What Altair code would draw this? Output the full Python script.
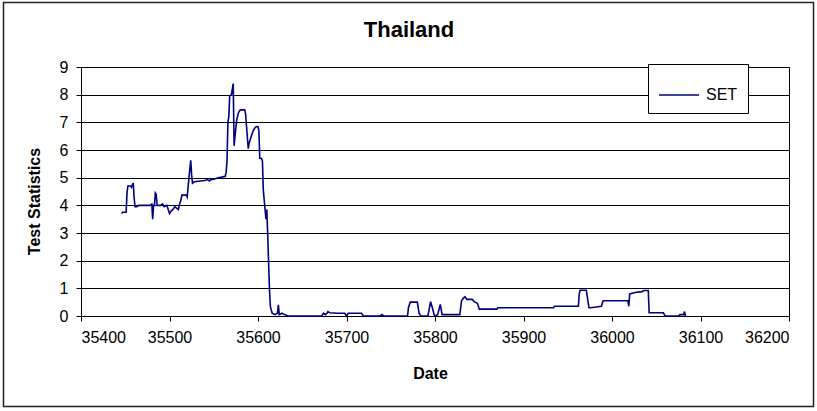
import altair as alt
import pandas as pd

# SET test statistics by (Excel serial) date
dates = [
    35446, 35447, 35451, 35452, 35453, 35456, 35457, 35459, 35460, 35461,
    35463, 35465, 35478, 35480, 35481, 35482, 35483, 35484, 35485, 35486,
    35490, 35492, 35494, 35497, 35499, 35500, 35502, 35504, 35506, 35508,
    35510, 35511, 35513, 35514, 35519, 35520, 35522, 35524, 35525, 35526,
    35528, 35535, 35540, 35543, 35545, 35547, 35551, 35555, 35559, 35563,
    35564, 35565, 35566, 35567, 35568, 35570, 35572, 35573, 35574, 35576,
    35578, 35580, 35585, 35586, 35588, 35589, 35590, 35592, 35594, 35596,
    35598, 35600, 35601, 35602, 35604, 35605, 35606, 35607, 35608, 35609,
    35610, 35611, 35612, 35613, 35614, 35616, 35619, 35622, 35623, 35624,
    35627, 35630, 35634, 35672, 35674, 35676, 35678, 35679, 35681, 35690,
    35698, 35700, 35702, 35717, 35719, 35738, 35740, 35742, 35769, 35770,
    35772, 35780, 35782, 35784, 35792, 35795, 35797, 35799, 35800, 35803,
    35806, 35808, 35810, 35828, 35830, 35832, 35834, 35836, 35842, 35845,
    35848, 35850, 35870, 35871, 35934, 35935, 35962, 35963, 35964, 35971,
    35973, 35974, 35976, 35988, 35990, 36018, 36019, 36020, 36026, 36034,
    36036, 36041, 36042, 36058, 36060, 36075, 36077, 36081, 36082, 36083,
]
values = [
    3.70, 3.75, 3.75, 4.45, 4.70, 4.70, 4.65, 4.81, 4.30, 3.95,
    3.95, 4.00, 4.00, 4.05, 3.50, 4.00, 4.00, 4.45, 4.40, 4.00,
    4.00, 4.05, 3.95, 4.00, 3.80, 3.70, 3.80, 3.85, 3.95, 3.90,
    3.85, 4.00, 4.20, 4.37, 4.37, 4.30, 5.00, 5.63, 5.10, 4.80,
    4.85, 4.88, 4.90, 4.93, 4.88, 4.93, 4.95, 5.00, 5.02, 5.05,
    5.20, 5.60, 7.00, 7.20, 7.95, 8.00, 8.40, 6.15, 6.50, 7.10,
    7.35, 7.45, 7.45, 7.30, 6.45, 6.05, 6.25, 6.45, 6.65, 6.78,
    6.85, 6.84, 6.70, 5.70, 5.69, 5.60, 4.55, 4.20, 3.85, 3.50,
    3.85, 2.90, 1.90, 0.94, 0.34, 0.10, 0.05, 0.10, 0.40, 0.05,
    0.10, 0.05, 0.00, 0.00, 0.10, 0.05, 0.10, 0.16, 0.12, 0.10,
    0.10, 0.00, 0.10, 0.10, 0.00, 0.00, 0.05, 0.00, 0.00, 0.30,
    0.50, 0.50, 0.10, 0.00, 0.00, 0.52, 0.30, 0.05, 0.00, 0.05,
    0.42, 0.05, 0.05, 0.05, 0.55, 0.64, 0.70, 0.60, 0.60, 0.50,
    0.46, 0.25, 0.25, 0.30, 0.30, 0.35, 0.35, 0.80, 0.93, 0.93,
    0.50, 0.30, 0.30, 0.35, 0.55, 0.55, 0.35, 0.80, 0.85, 0.88,
    0.92, 0.92, 0.12, 0.12, 0.00, 0.00, 0.05, 0.05, 0.16, 0.00,
]
series_name = "SET"
x_ticks = [35400, 35500, 35600, 35700, 35800, 35900, 36000, 36100, 36200]
y_ticks = [0, 1, 2, 3, 4, 5, 6, 7, 8, 9]

df = pd.DataFrame({"Date": dates, "Value": values, "series": series_name})

FONT = "Liberation Sans"
W, H = 708, 249

line = alt.Chart(df).mark_line(strokeWidth=1.6, interpolate="linear").encode(
    x=alt.X(
        "Date:Q",
        scale=alt.Scale(domain=[x_ticks[0], x_ticks[-1]], nice=False, zero=False),
        axis=alt.Axis(
            values=x_ticks, format="d", grid=False, title="Date",
            titleX=349, titleY=62, titleBaseline="alphabetic",
            titleFontSize=16, titleFontWeight="bold",
            labelFontSize=16, labelPadding=8, tickSize=5,
        ),
    ),
    y=alt.Y(
        "Value:Q",
        scale=alt.Scale(domain=[y_ticks[0], y_ticks[-1]], nice=False),
        axis=alt.Axis(
            values=y_ticks, grid=True, title="Test Statistics",
            titleX=-42, titleY=134, titleBaseline="alphabetic",
            titleFontSize=16, titleFontWeight="bold",
            labelFontSize=16, labelPadding=8, tickSize=5,
        ),
    ),
    color=alt.Color(
        "series:N",
        scale=alt.Scale(domain=[series_name], range=["#000080"]),
        legend=alt.Legend(
            title=None, orient="none", legendX=567, legendY=-3,
            strokeColor="#000000", fillColor="#ffffff", padding=10,
            symbolType="stroke", symbolSize=1600, symbolStrokeWidth=1.6,
            labelFontSize=16, labelOffset=6, labelFont=FONT,
        ),
    ),
)

# outer frame around the whole chart
frame = alt.Chart(pd.DataFrame({"k": [0]})).mark_rect(
    filled=False, stroke="#222222", strokeWidth=1.5
).encode(
    x=alt.value(-77.5), x2=alt.value(732.5),
    y=alt.value(-64.5), y2=alt.value(339.5),
)

chart = alt.layer(line, frame).properties(
    width=W,
    height=H,
    title=alt.Title("Thailand", fontSize=22, fontWeight="bold", font=FONT,
                    anchor="middle", baseline="alphabetic", dx=-26, dy=57.5,
                    offset=0, color="#000000"),
    autosize=alt.AutoSizeParams(type="none"),
    padding={"left": 81, "top": 67, "right": 28, "bottom": 95},
    background="#ffffff",
).configure_view(
    stroke="#000000", strokeWidth=1,
).configure_axis(
    labelFont=FONT, titleFont=FONT, labelColor="#000000", titleColor="#000000",
    domainColor="#000000", tickColor="#000000", gridColor="#000000",
    gridWidth=1, domainWidth=1, tickWidth=1, gridOpacity=1,
)

chart.save("out.html", embed_options={"renderer": "svg", "actions": False})
